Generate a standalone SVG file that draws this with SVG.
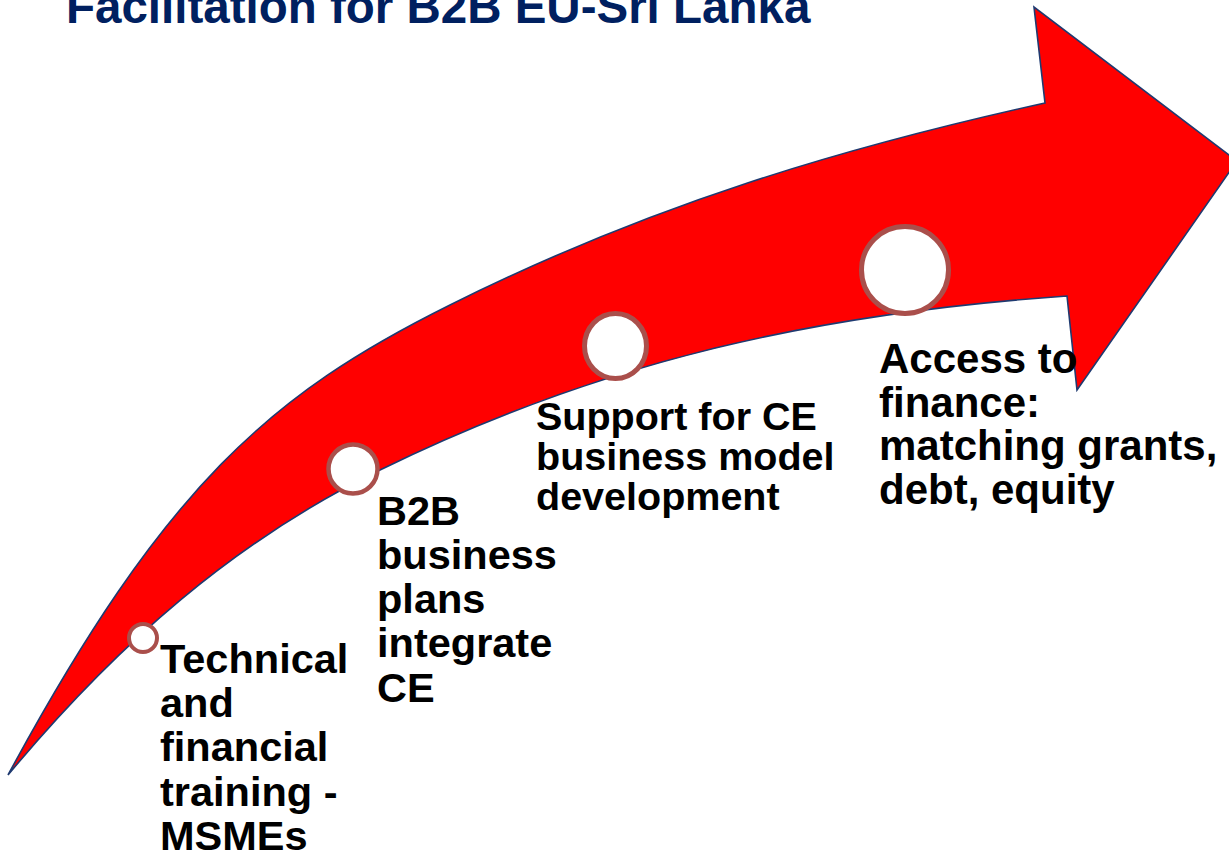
<svg xmlns="http://www.w3.org/2000/svg" width="1229" height="858" viewBox="0 0 1229 858">
<style>
  .title { font-family: "Liberation Sans", Arial, sans-serif; font-weight: bold; font-size: 47.5px; fill: #002060; }
  .lbl { font-family: "Liberation Sans", Arial, sans-serif; font-weight: bold; fill: #000000; }
  .dot { fill: #FFFFFF; stroke: #AA4F4B; }
  .arrow { fill: #FF0000; stroke: #1F3A70; stroke-width: 1.6; stroke-linejoin: miter; }
</style>
<rect x="0" y="0" width="1229" height="858" fill="#FFFFFF"/>
<text class="title" x="66" y="23">Facilitation for B2B EU-Sri Lanka</text>
<g id="arrow">
  <path class="arrow" d="M 8 775 C 165 485, 271 394, 450 305 C 650 205, 845 147, 1045 103 L 1034 7 L 1237 161 L 1077 390 L 1067 296 C 818 313.5, 604.5 360, 380 470 C 236 540, 117 644, 8 775 Z"/>
</g>
<g id="step1">
  <circle class="dot" cx="143" cy="638" r="14" stroke-width="4"/>
  <text class="lbl" font-size="41.5" x="160" y="672.7">Technical<tspan x="160" dy="44.3">and</tspan><tspan x="160" dy="44.3">financial</tspan><tspan x="160" dy="44.3">training -</tspan><tspan x="160" dy="44.3">MSMEs</tspan></text>
</g>
<g id="step2">
  <circle class="dot" cx="353" cy="469" r="24.5" stroke-width="4.5"/>
  <text class="lbl" font-size="41.5" x="377" y="524.5">B2B<tspan x="377" dy="44.3">business</tspan><tspan x="377" dy="44.3">plans</tspan><tspan x="377" dy="44.3">integrate</tspan><tspan x="377" dy="44.3">CE</tspan></text>
</g>
<g id="step3">
  <ellipse class="dot" cx="615.5" cy="346" rx="31" ry="32.5" stroke-width="5"/>
  <text class="lbl" font-size="39.5" x="536" y="430">Support for CE<tspan x="536" dy="40">business model</tspan><tspan x="536" dy="40">development</tspan></text>
</g>
<g id="step4">
  <circle class="dot" cx="905" cy="270" r="43.5" stroke-width="5"/>
  <text class="lbl" font-size="42" x="879" y="373">Access to<tspan x="879" dy="43.7">finance:</tspan><tspan x="879" dy="43.7">matching grants,</tspan><tspan x="879" dy="43.7">debt, equity</tspan></text>
</g>
</svg>
